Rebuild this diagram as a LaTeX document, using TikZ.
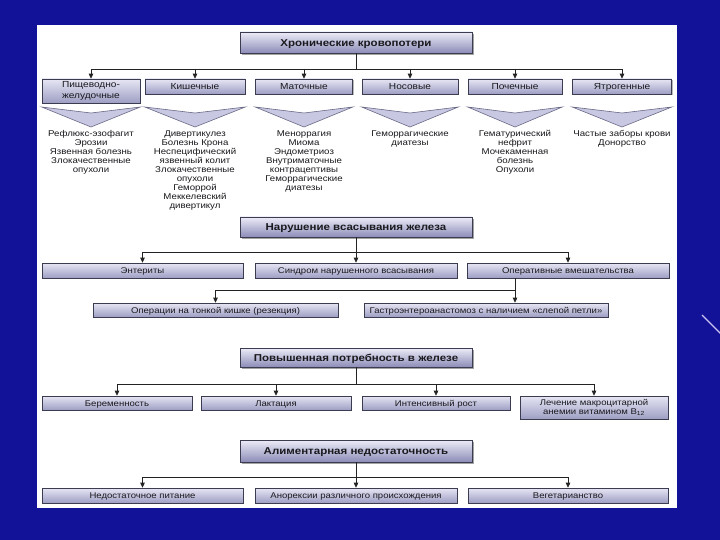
\documentclass[tikz,border=0pt]{standalone}
\usepackage{fontspec}
\setmainfont{Liberation Sans}[FakeStretch=1.15]
\usetikzlibrary{arrows.meta,shadows,calc}
\definecolor{bgblue}{RGB}{18,18,152}
\definecolor{boxtop}{RGB}{230,230,244}
\definecolor{boxbot}{RGB}{158,158,196}
\definecolor{ttop}{RGB}{236,236,248}
\definecolor{tbot}{RGB}{140,140,184}
\definecolor{boxline}{RGB}{60,60,80}
\definecolor{trifill}{RGB}{200,200,226}
\definecolor{triline}{RGB}{105,105,135}
\definecolor{ln}{RGB}{35,35,35}
\definecolor{diagc}{RGB}{205,195,240}
\definecolor{txt}{RGB}{25,25,30}
\begin{document}
\begin{tikzpicture}[x=1pt,y=-1pt,
  box/.style={draw=boxline, line width=0.6pt, top color=boxtop, bottom color=boxbot,
    inner sep=1pt, text=txt, font=\fontsize{8.3}{9}\selectfont,
    drop shadow={shadow xshift=1.2pt, shadow yshift=-1.2pt, fill=black!50, opacity=0.55}},
  one/.style={text height=6pt, text depth=0pt},
  two/.style={align=center},
  catbox/.style={box, font=\fontsize{8.8}{10.8}\selectfont},
  titlebox/.style={box, line width=0.7pt, top color=ttop, bottom color=tbot,
    font=\fontsize{10}{12}\bfseries\selectfont, minimum width=232pt,
    text height=7.2pt, text depth=0pt,
    drop shadow={shadow xshift=1.8pt, shadow yshift=-1.8pt, fill=black!60, opacity=0.6}},
  tri/.style={draw=triline, line width=0.6pt, fill=trifill},
  coltext/.style={anchor=north, align=center, inner sep=0pt, text=txt,
    font=\fontsize{8.4}{9}\selectfont},
  conn/.style={draw=ln, line width=0.8pt},
  arr/.style={conn, -{Triangle[width=4.5pt,length=5pt]}}
]
\useasboundingbox (0,0) rectangle (720,540);
\fill[bgblue] (0,0) rectangle (720,540);
\fill[white] (37,25) rectangle (677,508);
\draw[diagc, line width=1.3pt] (702,315) -- (722,335);

% ---------- Section 1 ----------
\node[titlebox, minimum height=21pt] (t1) at (356,42.5) {Хронические кровопотери};
\coordinate (h1) at (0,69);
\node[catbox, two, minimum width=98pt, minimum height=24pt] (c1) at (91,91) {Пищеводно-\\желудочные};
\node[catbox, one, minimum width=100pt, minimum height=15pt] (c2) at (195,86.5) {Кишечные};
\node[catbox, one, minimum width=97pt, minimum height=15pt] (c3) at (304,86.5) {Маточные};
\node[catbox, one, minimum width=96pt, minimum height=15pt] (c4) at (410,86.5) {Носовые};
\node[catbox, one, minimum width=94pt, minimum height=15pt] (c5) at (515,86.5) {Почечные};
\node[catbox, one, minimum width=99pt, minimum height=15pt] (c6) at (622,86.5) {Ятрогенные};
\draw[conn] (t1.south) -- (t1.south |- h1);
\draw[conn] (c1 |- h1) -- (c6 |- h1);
\foreach \n in {c1,c2,c3,c4,c5,c6} {\draw[arr] (\n |- h1) -- (\n.north);}
\coordinate (ty) at (0,107);
\coordinate (tm) at (0,113);
\coordinate (tb) at (0,127);
\foreach \n in {c1,c2,c3,c4,c5,c6} {
  \draw[tri] (\n.west |- ty) -- (\n.center |- tm) -- (\n.east |- ty) -- (\n.center |- tb) -- cycle;
}
\coordinate (dy) at (0,130.5);
\node[coltext] (d1) at (c1 |- dy) {Рефлюкс-эзофагит\\Эрозии\\Язвенная болезнь\\Злокачественные\\опухоли};
\node[coltext] (d2) at (c2 |- dy) {Дивертикулез\\Болезнь Крона\\Неспецифический\\язвенный колит\\Злокачественные\\опухоли\\Геморрой\\Меккелевский\\дивертикул};
\node[coltext] (d3) at (c3 |- dy) {Меноррагия\\Миома\\Эндометриоз\\Внутриматочные\\контрацептивы\\Геморрагические\\диатезы};
\node[coltext] (d4) at (c4 |- dy) {Геморрагические\\диатезы};
\node[coltext] (d5) at (c5 |- dy) {Гематурический\\нефрит\\Мочекаменная\\болезнь\\Опухоли};
\node[coltext] (d6) at (c6 |- dy) {Частые заборы крови\\Донорство};

% ---------- Section 2 ----------
\node[titlebox, minimum height=20pt] (t2) at (356,227) {Нарушение всасывания железа};
\coordinate (h2) at (0,252);
\node[box, one, minimum width=201pt, minimum height=15pt] (r1) at (142.5,270.5) {Энтериты};
\node[box, one, minimum width=202pt, minimum height=15pt] (r2) at (356,270.5) {Синдром нарушенного всасывания};
\node[box, one, minimum width=202pt, minimum height=15pt] (r3) at (568,270.5) {Оперативные вмешательства};
\draw[conn] (t2.south) -- (t2.south |- h2);
\draw[conn] (r1 |- h2) -- (r3 |- h2);
\foreach \n in {r1,r2,r3} {\draw[arr] (\n |- h2) -- (\n.north);}
\coordinate (h2b) at (0,290);
\coordinate (v2) at (515,0);
\node[box, one, minimum width=245pt, minimum height=14pt] (g1) at (215.5,310) {Операции на тонкой кишке (резекция)};
\node[box, one, minimum width=244pt, minimum height=14pt] (g2) at (486,310) {Гастроэнтероанастомоз с наличием «слепой петли»};
\draw[arr] (v2 |- r3.south) -- (v2 |- g2.north);
\draw[conn] (v2 |- h2b) -- (g1 |- h2b);
\draw[arr] (g1 |- h2b) -- (g1.north);

% ---------- Section 3 ----------
\node[titlebox, minimum height=19pt] (t3) at (356,357.5) {Повышенная потребность в железе};
\coordinate (h3) at (0,384);
\node[box, one, minimum width=150pt, minimum height=14pt] (p1) at (117,403) {Беременность};
\node[box, one, minimum width=150pt, minimum height=14pt] (p2) at (276,403) {Лактация};
\node[box, one, minimum width=148pt, minimum height=14pt] (p3) at (436,403) {Интенсивный рост};
\node[box, two, minimum width=148pt, minimum height=23pt] (p4) at (594,407.5) {Лечение макроцитарной\\анемии витамином B\textsubscript{12}};
\draw[conn] (t3.south) -- (t3.south |- h3);
\draw[conn] (p1 |- h3) -- (p4 |- h3);
\foreach \n in {p1,p2,p3,p4} {\draw[arr] (\n |- h3) -- (\n.north);}

% ---------- Section 4 ----------
\node[titlebox, minimum height=22pt] (t4) at (356,451) {Алиментарная недостаточность};
\coordinate (h4) at (0,477);
\node[box, one, minimum width=201pt, minimum height=15pt] (a1) at (142.5,495.5) {Недостаточное питание};
\node[box, one, minimum width=202pt, minimum height=15pt] (a2) at (356,495.5) {Анорексии различного происхождения};
\node[box, one, minimum width=200pt, minimum height=15pt] (a3) at (568,495.5) {Вегетарианство};
\draw[conn] (t4.south) -- (t4.south |- h4);
\draw[conn] (a1 |- h4) -- (a3 |- h4);
\foreach \n in {a1,a2,a3} {\draw[arr] (\n |- h4) -- (\n.north);}
\end{tikzpicture}
\end{document}
